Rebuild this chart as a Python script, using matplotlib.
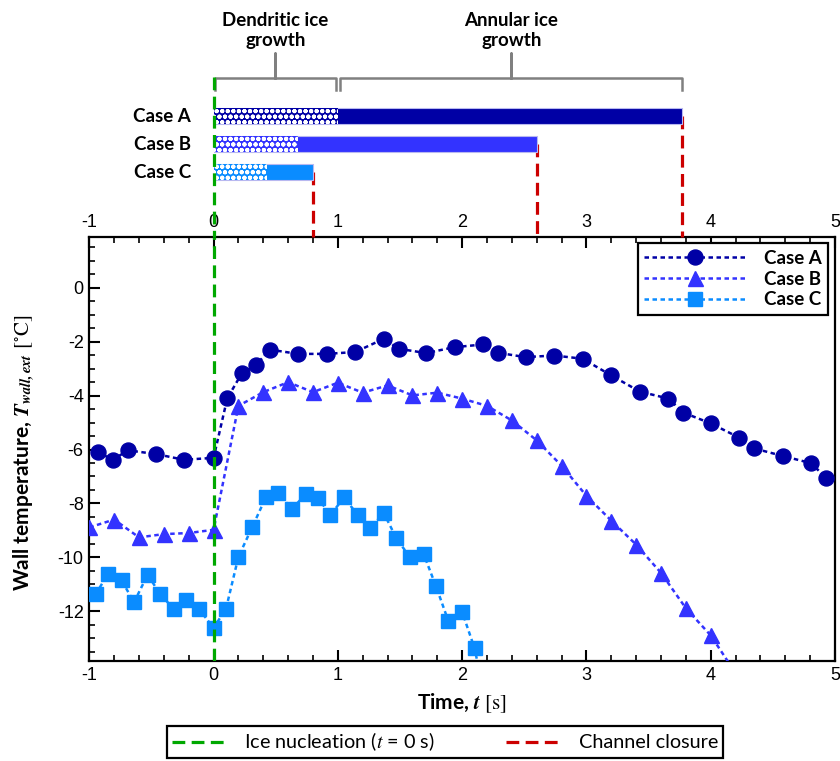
import numpy as np
import matplotlib
matplotlib.use("Agg")
import matplotlib.pyplot as plt
from matplotlib.lines import Line2D

plt.rcParams['font.family'] = ['Lato', 'DejaVu Sans']
plt.rcParams['mathtext.fontset'] = 'stix'
plt.rcParams['axes.unicode_minus'] = False
plt.rcParams['hatch.linewidth'] = 1.4

# wall temperature traces
t_a = [-0.93, -0.81, -0.69, -0.46, -0.24, 0.0, 0.11, 0.23, 0.34, 0.45, 0.68, 0.91, 1.14, 1.37, 1.49, 1.71,
       1.94, 2.17, 2.29, 2.51, 2.74, 2.97, 3.20, 3.43, 3.66, 3.78, 4.0, 4.23, 4.35, 4.58, 4.81, 4.93]
T_a = [-6.1, -6.38, -6.03, -6.17, -6.38, -6.31, -4.1, -3.15, -2.88, -2.29, -2.45, -2.45, -2.38, -1.89, -2.26, -2.42,
       -2.2, -2.1, -2.41, -2.57, -2.51, -2.63, -3.25, -3.85, -4.11, -4.63, -5.03, -5.56, -5.96, -6.24, -6.51, -7.07]

t_b = [-1.0, -0.8, -0.6, -0.4, -0.2, 0.0, 0.2, 0.4, 0.6, 0.8, 1.0, 1.2, 1.4, 1.6, 1.8, 2.0, 2.2, 2.4,
       2.6, 2.8, 3.0, 3.2, 3.4, 3.6, 3.8, 4.0, 4.2]
T_b = [-8.89, -8.6, -9.26, -9.14, -9.1, -8.98, -4.38, -3.87, -3.5, -3.87, -3.52, -3.89, -3.62, -3.99, -3.89, -4.11,
       -4.38, -4.92, -5.66, -6.6, -7.72, -8.64, -9.53, -10.58, -11.89, -12.9, -14.3]

t_c = [-0.95, -0.85, -0.74, -0.64, -0.53, -0.43, -0.32, -0.22, -0.12, 0.0, 0.10, 0.20, 0.31, 0.42, 0.52, 0.63,
       0.74, 0.84, 0.94, 1.05, 1.16, 1.26, 1.37, 1.47, 1.58, 1.69, 1.79, 1.89, 2.0, 2.10, 2.2]
T_c = [-11.38, -10.62, -10.86, -11.67, -10.64, -11.38, -11.91, -11.58, -11.91, -12.62, -11.91, -9.98, -8.89, -7.78,
       -7.62, -8.21, -7.66, -7.8, -8.43, -7.78, -8.43, -8.91, -8.36, -9.29, -10.0, -9.88, -11.08, -12.38, -12.03,
       -13.38, -15.6]

# ice growth phases per case
cases = ['Case A', 'Case B', 'Case C']
dendritic_end = [1.0, 0.68, 0.43]
closure_time = [3.77, 2.6, 0.8]
phase_labels = ['Dendritic ice\ngrowth', 'Annular ice\ngrowth']

colors = ['#0000a5', '#3333ff', '#0a8cff']
markers = ['o', '^', 's']
msizes = [10.8, 10.8, 9.4]
green = '#00a800'
red = '#cc0000'

W, H = 840, 761
fig = plt.figure(figsize=(W / 100, H / 100), dpi=100)

ax_l, ax_r, ax_t, ax_b = 89.3, 835, 236.7, 661
ax = fig.add_axes([ax_l / W, 1 - ax_b / H, (ax_r - ax_l) / W, (ax_b - ax_t) / H])
ax_top = fig.add_axes([ax_l / W, 1 - ax_t / H, (ax_r - ax_l) / W, ax_t / H])

# ---- main plot
series = [(t_a, T_a), (t_b, T_b), (t_c, T_c)]
for i, (tt, TT) in enumerate(series):
    ax.plot(tt, TT, color=colors[i], ls=(0, (1.8, 1.4)), lw=1.8, marker=markers[i],
            ms=msizes[i], mec=colors[i], mfc=colors[i], label=cases[i], zorder=3)

ax.axvline(0, color=green, ls=(0, (4, 2)), lw=2.3, zorder=4)

ax.set_xlim(-1, 5)
ax.set_ylim(-13.85, 1.9)
ax.set_xticks(np.arange(-1, 6, 1))
ax.set_yticks(np.arange(-12, 1, 2))
ax.set_xticks(np.arange(-1, 5.01, 0.2), minor=True)
ax.set_yticks(np.arange(-13.5, 1.9, 0.5), minor=True)
ax.tick_params(which='both', direction='in', top=True, right=False, labeltop=True,
               labelsize=13, width=1.5, pad=4)
ax.tick_params(which='major', length=8)
ax.tick_params(which='minor', length=4.5, width=1.2)
for lab in ax.get_xticklabels() + ax.get_yticklabels():
    lab.set_fontfamily('Liberation Sans')
for s in ax.spines.values():
    s.set_linewidth(1.6)

ax.set_xlabel(r'Time, $\mathbfit{t}$ $[\mathrm{s}]$', fontsize=15, fontweight='bold')
ax.set_ylabel(r'Wall temperature, $\mathbfit{T}_{\mathbfit{wall,ext}}$ $[{}^{\circ}\mathrm{C}]$',
              fontsize=15, fontweight='bold')
ax.xaxis.set_label_coords(0.5, -0.072)
ax.yaxis.set_label_coords(-0.07, 0.49)

leg = ax.legend(loc='upper right', prop={'weight': 'bold', 'size': 13.5},
                handlelength=5.4, numpoints=1, labelspacing=0.2, handletextpad=1.0,
                borderpad=0.35, borderaxespad=0.35, fancybox=False, framealpha=1,
                edgecolor='black')
leg.get_frame().set_linewidth(1.6)

# ---- top timeline panel
ax_top.set_xlim(-1, 5)
ax_top.set_ylim((ax_t - 116) / 28, (0 - 116) / 28)
ax_top.axis('off')

ypos = np.arange(len(cases))
bar_h = 0.54
ax_top.barh(ypos, closure_time, left=0, height=bar_h, color=colors, edgecolor='#b8b8f0', lw=0.8, zorder=3)
ax_top.barh(ypos, dendritic_end, left=0, height=bar_h, color=colors, edgecolor='white', lw=0,
            hatch='ooo', zorder=4)
for i, c in enumerate(cases):
    ax_top.text(-0.18, ypos[i], c, ha='right', va='center', fontsize=13.5, fontweight='bold')
    ax_top.plot([closure_time[i], closure_time[i]], [ypos[i], ax_top.get_ylim()[0]],
                color=red, ls=(0, (4, 2)), lw=2.3, zorder=2, clip_on=False)

ax_top.plot([0, 0], [(77 - 116) / 28, ax_top.get_ylim()[0]], color=green, ls=(0, (4, 2)), lw=2.3,
            zorder=5, clip_on=False)

# brackets over growth phases of case A
y_hook, y_bar, y_stem = (90 - 116) / 28, (78 - 116) / 28, (53 - 116) / 28
spans = [(0.01, dendritic_end[0] - 0.015), (dendritic_end[0] + 0.02, closure_time[0])]
for (x0, x1), lab in zip(spans, phase_labels):
    xm = (x0 + x1) / 2
    ax_top.plot([x0, x0, xm, xm, xm, x1, x1], [y_hook, y_bar, y_bar, y_stem, y_bar, y_bar, y_hook],
                color='#808080', lw=1.8, solid_joinstyle='round', zorder=2)
    ax_top.text(xm, (30.5 - 116) / 28, lab, ha='center', va='center', fontsize=13.5,
                fontweight='bold', linespacing=1.25)

# ---- bottom legend
handles = [Line2D([], [], color=green, ls=(0, (4, 2)), lw=2.3),
           Line2D([], [], color=red, ls=(0, (4, 2)), lw=2.3)]
fleg = fig.legend(handles, [r'Ice nucleation ($\mathit{t}$ = 0 s)', 'Channel closure'],
                  loc='center', bbox_to_anchor=(445 / W, 1 - 742 / H), ncol=2, fontsize=14.3,
                  handlelength=2.75, handletextpad=0.9, columnspacing=3.6, borderpad=0.25,
                  fancybox=False, framealpha=1, edgecolor='black')
fleg.get_frame().set_linewidth(1.6)

fig.savefig('out.png', dpi=100)
